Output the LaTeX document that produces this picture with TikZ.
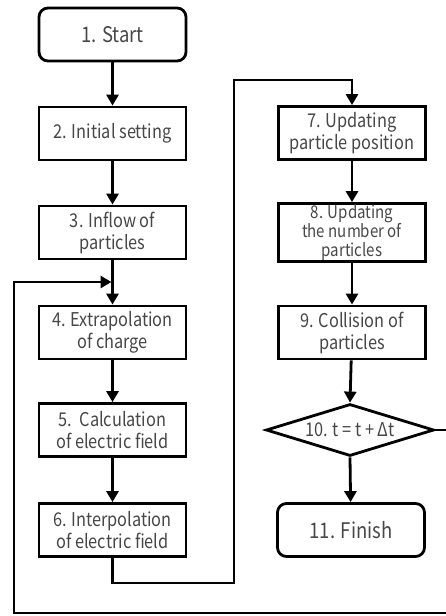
\documentclass[tikz,border=0pt]{standalone}
\usepackage{fontspec}
\setmainfont{Noto Sans CJK JP}[FakeStretch=0.86]
\usetikzlibrary{arrows.meta,shapes.geometric}
\tikzset{
  every node/.style={font=\fontsize{19}{22}\selectfont, text=black!72},
  procbox/.style={draw=black, line width=2.8pt, minimum width=147pt, minimum height=53pt, inner sep=1pt, align=center},
  termbox/.style={procbox, rounded corners=9pt, font=\fontsize{21.5}{24}\selectfont},
  decbox/.style={draw=black, line width=2.8pt, diamond, minimum width=168pt, minimum height=52pt, inner sep=0pt},
  conn/.style={draw=black, line width=2.8pt},
  arr/.style={conn, -{Triangle[width=12pt,length=11pt]}},
}
\begin{document}
\begin{tikzpicture}[x=1pt,y=-1pt]
\useasboundingbox (0,0) rectangle (445,616);
% left column
\node[termbox] (n1) at (112.5,34.5) {1. Start};
\node[procbox] (n2) at (112.5,133.5) {2. Initial setting};
\node[procbox] (n3) at (112.5,232.5) {3. Inflow of\\particles};
\node[procbox] (n4) at (112.5,332.5) {4. Extrapolation\\of charge};
\node[procbox] (n5) at (112.5,430) {5.\ \ Calculation\\of electric field};
\node[procbox] (n6) at (112.5,530) {6. Interpolation\\of electric field};
% right column
\node[procbox] (n7) at (352,133) {7. Updating\\particle position};
\node[procbox, font=\fontsize{17.5}{18.5}\selectfont] (n8) at (352,232.5) {8. Updating\\the number of\\particles};
\node[procbox] (n9) at (352,332.5) {9. Collision of\\particles};
\node[decbox] (n10) at (350,430) {};
\node (t10) at (350,430) {10. t = t + Δt};
\node[termbox] (n11) at (351,530) {11. Finish};
% helper coordinates
\coordinate (join) at (112.5,282);
\coordinate (a1) at (112.5,583);
\coordinate (a2) at (234,583);
\coordinate (a3) at (234,80);
\coordinate (a4) at (352,80);
\coordinate (b1) at (447,430);
\coordinate (b2) at (447,613);
\coordinate (b3) at (14,613);
\coordinate (b4) at (14,282);
% connectors
\draw[arr] (n1) -- (n2);
\draw[arr] (n2) -- (n3);
\draw[arr] (n3) -- (n4);
\draw[arr] (n4) -- (n5);
\draw[arr] (n5) -- (n6);
\draw[arr] (n6.south) -- (a1) -- (a2) -- (a3) -- (a4) -- (n7.north);
\draw[arr] (n7) -- (n8);
\draw[arr] (n8) -- (n9);
\draw[arr] (n9) -- (n10.north);
\draw[arr] (n10.south) -- (n11);
\draw[arr] (n10.east) -- (b1) -- (b2) -- (b3) -- (b4) -- ([xshift=-1pt]join);
\end{tikzpicture}
\end{document}
